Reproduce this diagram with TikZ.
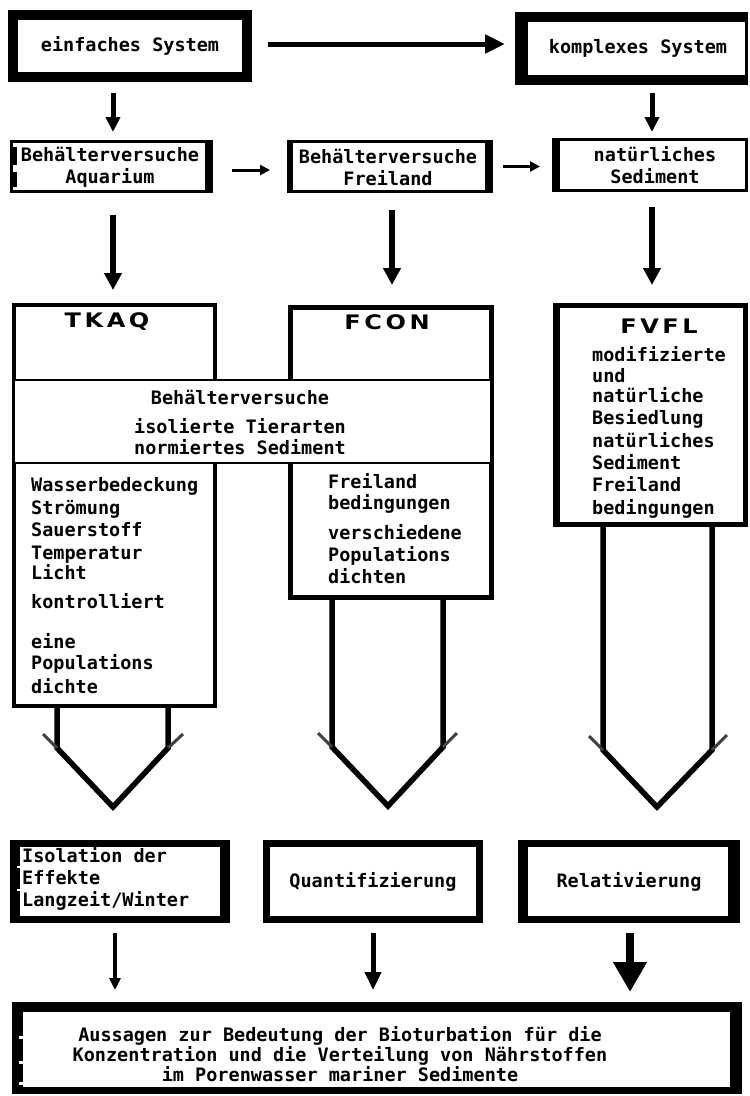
\documentclass[tikz,border=0pt]{standalone}
\usepackage{fontspec}
\usepackage{graphicx}
\setmainfont{DejaVu Sans Mono}
\newfontfamily\titlefont{DejaVu Sans}[LetterSpace=15]
\usetikzlibrary{arrows.meta,calc}
\tikzset{
  txt/.style={font=\fontsize{18.5pt}{22pt}\selectfont\bfseries, inner sep=0pt},
  box/.style={draw, fill=white, inner sep=0pt, txt, align=center},
  ttl/.style={font=\titlefont\bfseries\fontsize{20pt}{22pt}\selectfont, inner sep=0pt},
  hollow/.style={line width=5.5pt, line join=miter},
  barb/.style={line width=3pt, black!75}
}
\begin{document}
\begin{tikzpicture}[x=1pt,y=-1pt]
\fill[white] (0,0) rectangle (750,1096);
\useasboundingbox (0,0) rectangle (750,1096);

% ---------- top row
\node[box, line width=10pt, minimum width=234pt, minimum height=62pt] (A) at (130,46) {einfaches System};
\node[box, line width=3pt, minimum width=230pt, minimum height=70pt] (B) at (631.5,48.5) {};
\fill (515,12) rectangle (748,22);
\fill (515,75) rectangle (748,85);
\fill (515,12) rectangle (528,85);
\node[txt] (Bt) at (638,48) {komplexes System};

% ---------- second row
\node[box, line width=3pt, minimum width=200pt, minimum height=50pt] (C) at (111.5,166.5) {};
\fill (205,140) rectangle (213,193);
\fill (10,147) rectangle (17,165);
\fill (10,172) rectangle (17,187);
\node[txt, align=center] (Ct) at (110,167) {Behälterversuche\\Aquarium};

\node[box, line width=3pt, minimum width=203pt, minimum height=50pt] (D) at (390,166.5) {};
\fill (287,140) rectangle (293,193);
\fill (485,140) rectangle (493,193);
\node[txt, align=center] (Dt) at (388,167) {Behälterversuche\\Freiland};

\node[box, line width=3pt, minimum width=193pt, minimum height=51pt] (E) at (650,165) {};
\fill (552,138) rectangle (560,192);
\node[txt, align=center] (Et) at (655,165) {natürliches\\Sediment};

% ---------- big boxes
\node[box, line width=4pt, minimum width=201pt, minimum height=401pt] (F) at (114.5,505.5) {};
\node[box, line width=5pt, minimum width=201pt, minimum height=290pt] (G) at (391,452.5) {};
\node[box, line width=1.5pt, minimum width=477pt, minimum height=83pt] (I) at (252.5,421.5) {};
\node[box, line width=5pt, minimum width=190pt, minimum height=219pt] (H) at (650.5,415) {};
\fill (553,303) rectangle (560,527);

\node[ttl] (Ft) at (107,322) {\scalebox{1.2}[1]{TKAQ}};
\node[ttl] (Gt) at (387,322) {\scalebox{1.2}[1]{FCON}};
\node[ttl] (Ht) at (659,326) {\scalebox{1.2}[1]{FVFL}};

\foreach \y/\t [count=\i] in {404/Behälterversuche, 433/isolierte Tierarten, 454/normiertes Sediment}
  \node[txt, anchor=base] (band\i) at (240,\y) {\t};

\foreach \y/\t [count=\i] in {491/Wasserbedeckung, 514/Strömung, 536/Sauerstoff, 559/Temperatur, 579/Licht, 608/kontrolliert, 648/eine, 669/Populations, 693/dichte}
  \node[txt, anchor=base west] (tk\i) at (31,\y) {\t};

\foreach \y/\t [count=\i] in {488/Freiland, 509/bedingungen, 539/verschiedene, 561/Populations, 583/dichten}
  \node[txt, anchor=base west] (fc\i) at (328,\y) {\t};

\foreach \y/\t [count=\i] in {361/modifizierte, 382/und, 402/natürliche, 424/Besiedlung, 447/natürliches, 469/Sediment, 491/Freiland, 514/bedingungen}
  \node[txt, anchor=base west] (fv\i) at (592,\y) {\t};

% ---------- fourth row
\node[box, line width=7pt, minimum width=213pt, minimum height=76pt] (J) at (120,881.5) {};
\fill (220,840) rectangle (230,923);
\fill (10,840) rectangle (20,866);
\fill (10,868) rectangle (20,889);
\fill (10,891) rectangle (20,923);
\node[txt, anchor=west, align=left] (Jt) at (22,879) {Isolation der\\Effekte\\Langzeit/Winter};

\node[box, line width=7pt, minimum width=213pt, minimum height=76pt] (K) at (373,881.5) {Quantifizierung};

\node[box, line width=7pt, minimum width=215pt, minimum height=76pt] (L) at (629,881.5) {Relativierung};
\fill (518,840) rectangle (528,923);
\fill (728,840) rectangle (740,923);

% ---------- final box
\node[box, line width=7pt, minimum width=723pt, minimum height=85pt] (M) at (377,1048) {};
\fill (12,1002) rectangle (742,1012);
\fill (730,1002) rectangle (742,1094);
\fill (12,1002) rectangle (23,1036);
\fill (12,1039) rectangle (23,1061);
\fill (12,1064) rectangle (23,1082);
\fill (12,1085) rectangle (23,1094);
\node[txt, align=center] (Mt) at (340,1054) {Aussagen zur Bedeutung der Bioturbation für die\\[-2pt]Konzentration und die Verteilung von Nährstoffen\\[-2pt]im Porenwasser mariner Sedimente};

% ---------- arrows, top
\draw[line width=5pt, -{Triangle[length=20pt,width=18pt]}, shorten <=16pt, shorten >=10pt]
  ([yshift=2pt]A.east) -- ([yshift=4.5pt]B.west);
\draw[line width=5pt, -{Triangle[length=15pt,width=14pt]}, shorten <=11pt, shorten >=8pt]
  ([xshift=-17pt]A.south) -- ([xshift=-17pt]A.south |- C.north);
\draw[line width=5pt, -{Triangle[length=15pt,width=14pt]}, shorten <=8pt, shorten >=6pt]
  ([xshift=20.5pt]B.south) -- ([xshift=20.5pt]B.south |- E.north);
\draw[line width=3pt, -{Triangle[length=10pt,width=10pt]}, shorten <=19pt, shorten >=17pt]
  ([yshift=-3.5pt]C.east) -- ([yshift=-3.5pt]C.east -| D.west);
\draw[line width=3pt, -{Triangle[length=10pt,width=10pt]}, shorten <=10pt, shorten >=12pt]
  (D.east) -- (D.east -| E.west);
\draw[line width=6pt, -{Triangle[length=17pt,width=17pt]}, shorten <=22pt, shorten >=13pt]
  ([xshift=1.5pt]C.south) -- ([xshift=1.5pt]C.south |- F.north);
\draw[line width=6pt, -{Triangle[length=17pt,width=17pt]}, shorten <=17pt, shorten >=20pt]
  ([xshift=2pt]D.south) -- ([xshift=2pt]D.south |- G.north);
\draw[line width=6pt, -{Triangle[length=17pt,width=17pt]}, shorten <=15pt, shorten >=18pt]
  ([xshift=2pt]E.south) -- ([xshift=2pt]E.south |- H.north);

% ---------- hollow arrows
\coordinate (ftip) at (113,807);
\coordinate (gtip) at (388,806);
\coordinate (htip) at (657,807);
\draw[hollow] ([xshift=-57.5pt]F.south) -- (57,748) -- (ftip) -- (168,748) -- ([xshift=53.5pt]F.south);
\draw[barb] (43,734) -- (57,748);
\draw[barb] (168,748) -- (183,734);
\draw[hollow] ([xshift=-59pt]G.south) -- (332,747) -- (gtip) -- (443,747) -- ([xshift=52pt]G.south);
\draw[barb] (318,733) -- (332,747);
\draw[barb] (443,747) -- (457,733);
\draw[hollow] ([xshift=-47.5pt]H.south) -- (603,750) -- (htip) -- (712,750) -- ([xshift=61.5pt]H.south);
\draw[barb] (589,736) -- (603,750);
\draw[barb] (712,750) -- (727,735);

% ---------- arrows, bottom
\draw[line width=4pt, -{Triangle[length=12pt,width=11pt]}, shorten <=10pt, shorten >=12pt]
  ([xshift=-5pt]J.south) -- ([xshift=-5pt]J.south |- M.north);
\draw[line width=5pt, -{Triangle[length=18pt,width=16pt]}, shorten <=10pt, shorten >=12pt]
  (K.south) -- (K.south |- M.north);
\draw[line width=8pt, -{Triangle[length=30pt,width=32pt]}, shorten <=10pt, shorten >=10pt]
  ([xshift=1pt]L.south) -- ([xshift=1pt]L.south |- M.north);
\end{tikzpicture}
\end{document}
